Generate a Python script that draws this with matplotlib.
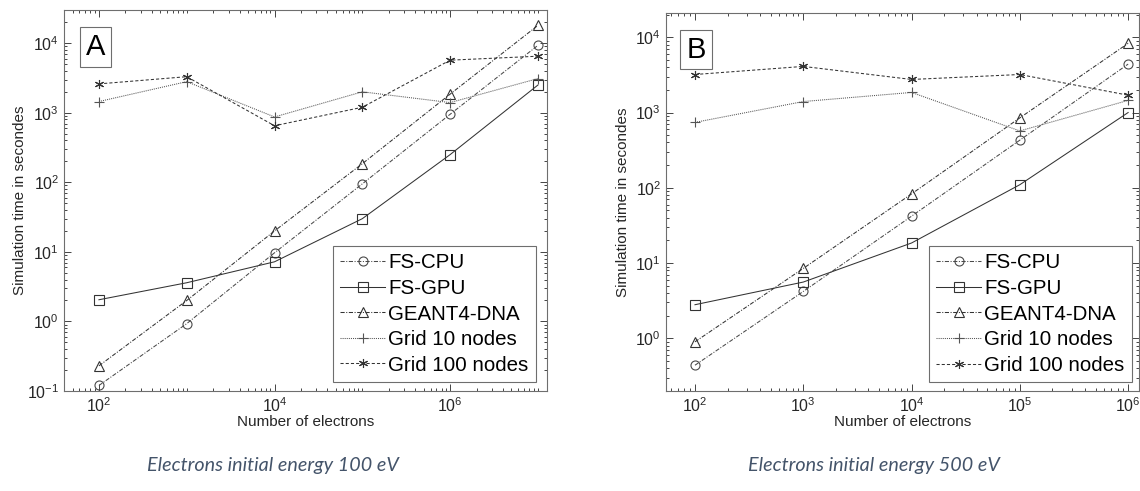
import matplotlib
matplotlib.use("Agg")
import matplotlib.pyplot as plt
from matplotlib.ticker import FixedLocator, LogFormatterSciNotation, NullFormatter

plt.rcParams['font.family'] = ['Liberation Sans', 'DejaVu Sans']
plt.rcParams['mathtext.default'] = 'regular'

# ---- data ----
series_names = ["FS-CPU", "FS-GPU", "GEANT4-DNA", "Grid 10 nodes", "Grid 100 nodes"]

electrons_a = [1e2, 1e3, 1e4, 1e5, 1e6, 1e7]
fs_cpu_a = [0.12, 0.93, 9.7, 95, 950, 9300]
fs_gpu_a = [2.05, 3.6, 7.2, 30, 250, 2500]
geant4_a = [0.23, 2.0, 20, 185, 1850, 18000]
grid10_a = [1450, 2800, 870, 2000, 1400, 3100]
grid100_a = [2600, 3300, 650, 1200, 5700, 6500]

electrons_b = [1e2, 1e3, 1e4, 1e5, 1e6]
fs_cpu_b = [0.44, 4.2, 42, 430, 4400]
fs_gpu_b = [2.8, 5.6, 18.5, 110, 1000]
geant4_b = [0.9, 8.5, 83, 850, 8300]
grid10_b = [740, 1400, 1850, 570, 1450]
grid100_b = [3200, 4100, 2750, 3200, 1700]

xticks_a = [1e2, 1e4, 1e6]
xticks_b = [1e2, 1e3, 1e4, 1e5, 1e6]

panel_letters = ["A", "B"]
captions = ["Electrons initial energy 100 eV", "Electrons initial energy 500 eV"]
xlabel = "Number of electrons"
ylabel = "Simulation time in secondes"

# ---- styles ----
styles = [
    dict(marker='o', linestyle=(0, (4, 1.5, 1, 1.5)), color='#4a4a4a'),
    dict(marker='s', linestyle='-', color='#333333'),
    dict(marker='^', linestyle=(0, (4, 1.5, 1, 1.5)), color='#333333'),
    dict(marker='+', linestyle=(0, (1, 1)), color='#555555'),
    dict(marker=(6, 2, 0), linestyle=(0, (3, 2)), color='#333333'),
]

W, H = 1140, 491
fig = plt.figure(figsize=(W / 100, H / 100), dpi=100)

def px_axes(l, t, r, b):
    return fig.add_axes([l / W, (H - b) / H, (r - l) / W, (b - t) / H])

axA = px_axes(64, 10, 547, 391)
axB = px_axes(666, 13, 1139, 391)

panels = [
    (axA, electrons_a, [fs_cpu_a, fs_gpu_a, geant4_a, grid10_a, grid100_a], xticks_a,
     (40, 1.27e7), (0.1, 3e4), (0.977, 0.024), (81, 27, 110, 67), 273, 0),
    (axB, electrons_b, [fs_cpu_b, fs_gpu_b, geant4_b, grid10_b, grid100_b], xticks_b,
     (54, 1.26e6), (0.2, 2.1e4), (0.985, 0.024), (681, 31, 711, 68), 874, 4),
]

for i, (ax, xs, ys_list, xt, xl, yl, lanchor, box, capx, ypad) in enumerate(panels):
    for name, ys, st in zip(series_names, ys_list, styles):
        ax.plot(xs, ys, label=name, linewidth=0.75, markersize=6.5,
                markerfacecolor='none', markeredgewidth=0.8,
                markeredgecolor=st['color'], color=st['color'],
                marker=st['marker'], linestyle=st['linestyle'])
    ax.set_xscale('log')
    ax.set_yscale('log')
    ax.set_xlim(*xl)
    ax.set_ylim(*yl)
    ax.xaxis.set_major_locator(FixedLocator(xt))
    ax.xaxis.set_major_formatter(LogFormatterSciNotation())
    minors = [m * 10.0 ** e for e in range(1, 8) for m in range(1, 10)
              if m * 10.0 ** e not in xt]
    ax.xaxis.set_minor_locator(FixedLocator(minors))
    ax.xaxis.set_minor_formatter(NullFormatter())
    ax.tick_params(which='both', direction='in', top=True, right=True,
                   colors='#262626', labelsize=11.5, width=0.6)
    ax.tick_params(which='major', length=5)
    ax.tick_params(which='minor', length=2.5)
    for s in ax.spines.values():
        s.set_color('#6e6e6e')
        s.set_linewidth(0.8)
    ax.set_xlabel(xlabel, fontsize=11, color='#262626', labelpad=0)
    ax.set_ylabel(ylabel, fontsize=11, color='#262626', labelpad=ypad)
    leg = ax.legend(loc='lower right', bbox_to_anchor=lanchor, borderaxespad=0,
                    fontsize=14.8, labelspacing=0.32, handlelength=2.2,
                    handletextpad=0.15, borderpad=0.35, fancybox=False,
                    framealpha=1, edgecolor='#6e6e6e')
    leg.get_frame().set_linewidth(0.8)
    # panel letter box
    l, t, r, b = box
    fig.text((l + r) / 2 / W, 1 - (t + b) / 2 / H, panel_letters[i],
             fontsize=21, ha='center', va='center', color='black',
             bbox=dict(boxstyle='square,pad=0.2', facecolor='white',
                       edgecolor='#6e6e6e', linewidth=0.8))
    fig.text(capx / W, 1 - 466 / H, captions[i], fontsize=14.2,
             family=['Lato', 'DejaVu Sans'], style='italic',
             color='#44546A', ha='center', va='center')

fig.savefig('out.png', dpi=100, facecolor='white')
